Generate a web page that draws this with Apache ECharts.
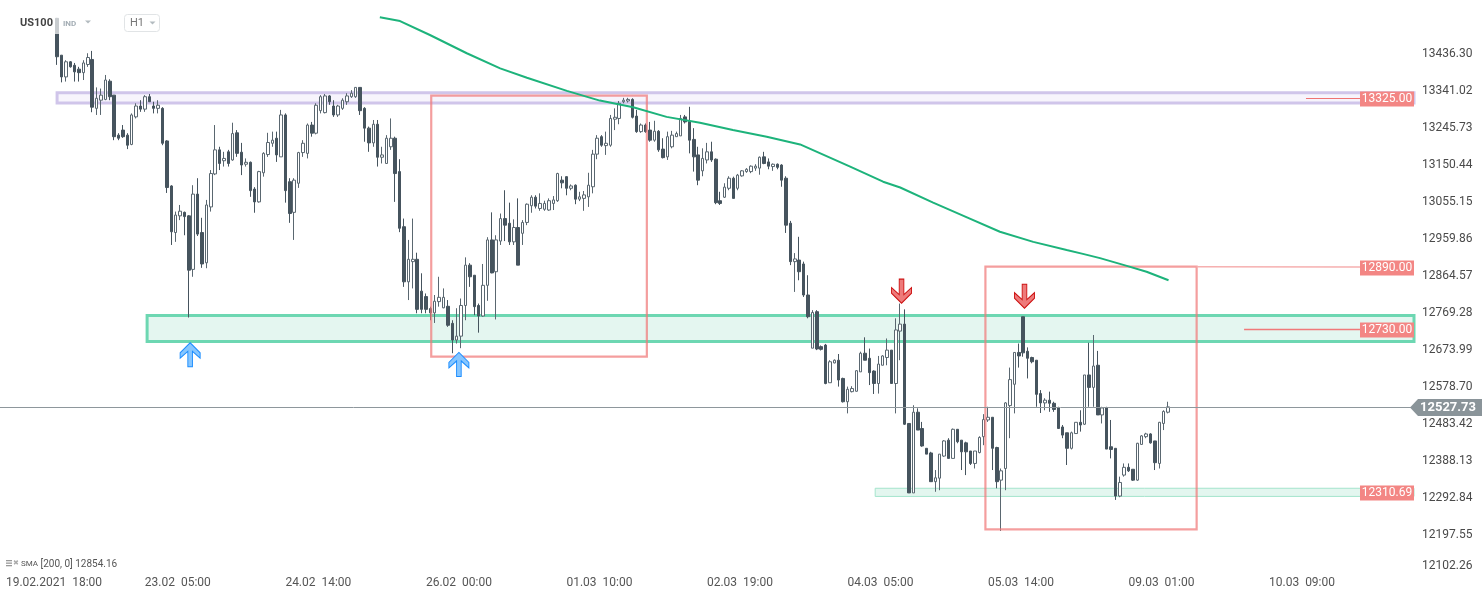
<!DOCTYPE html>
<html><head><meta charset="utf-8">
<script src="https://cdn.jsdelivr.net/npm/echarts@6/dist/echarts.min.js"></script>
<style>html,body{margin:0;padding:0;background:#fff}#c{width:1482px;height:598px}</style>
</head><body><div id="c"></div>
<script>
// ---------- DATA ----------
const startIndex = 12; // bar index of the first candle (hourly bars)
// [open, close, low, high]
const candles = [
[13529,13430,13409,13530],[13434,13378,13364,13434],[13378,13417,13366,13421],[13417,13404,13402,13419],
[13408,13391,13366,13414],[13398,13389,13366,13404],[13389,13414,13370,13421],[13410,13428,13404,13439],
[13423,13300,13287,13445],[13297,13323,13280,13351],[13318,13331,13280,13348],[13320,13370,13318,13383],
[13367,13327,13318,13372],[13331,13224,13215,13331],[13228,13220,13215,13233],[13241,13224,13221,13254],
[13228,13202,13192,13233],[13204,13280,13202,13284],[13275,13303,13271,13310],[13303,13295,13288,13318],
[13295,13327,13288,13331],[13327,13314,13314,13334],[13303,13297,13284,13314],[13297,13305,13284,13318],
[13297,13207,13202,13300],[13213,13093,13079,13215],[13097,12979,12945,13099],[12977,13022,12953,13031],
[13020,13032,13009,13048],[13029,13018,12970,13031],[13020,12880,12758,13022],[12882,13076,12863,13099],
[13076,12973,12968,13117],[12977,12896,12886,13015],[12899,13048,12885,13061],[13043,13129,13031,13138],
[13128,13190,13125,13254],[13190,13155,13138,13198],[13162,13168,13147,13185],[13185,13155,13147,13190],
[13164,13232,13162,13260],[13234,13181,13172,13241],[13184,13151,13125,13208],[13153,13158,13147,13168],
[13158,13085,13069,13160],[13089,13056,13028,13094],[13056,13134,13054,13136],[13131,13181,13121,13184],
[13178,13209,13172,13234],[13207,13215,13198,13237],[13220,13177,13159,13237],[13172,13280,13172,13293],
[13280,13085,13054,13284],[13108,13026,13002,13117],[13029,13112,12958,13117],[13104,13183,13092,13185],
[13183,13207,13172,13215],[13181,13254,13168,13258],[13254,13233,13224,13262],[13233,13305,13230,13310],
[13291,13327,13284,13331],[13286,13329,13284,13334],[13329,13314,13306,13331],[13303,13280,13275,13318],
[13280,13303,13275,13306],[13297,13318,13293,13323],[13314,13329,13306,13336],[13327,13336,13324,13344],
[13327,13351,13324,13351],[13351,13291,13280,13351],[13297,13246,13211,13300],[13246,13208,13185,13250],
[13208,13256,13198,13267],[13256,13171,13147,13267],[13171,13177,13155,13198],[13155,13220,13155,13228],
[13198,13220,13190,13271],[13220,13129,13056,13224],[13134,12988,12978,13166],[12992,12850,12837,13013],
[12850,12908,12803,12958],[12902,12908,12833,13013],[12908,12779,12769,12925],[12826,12779,12769,12872],
[12812,12779,12769,12820],[12781,12770,12751,12786],[12770,12800,12744,12816],[12799,12810,12786,12863],
[12783,12810,12782,12833],[12787,12738,12734,12803],[12743,12700,12666,12751],[12700,12710,12691,12782],
[12710,12789,12679,12807],[12789,12893,12751,12913],[12893,12863,12837,12898],[12867,12786,12764,12867],
[12789,12762,12719,12794],[12762,12841,12760,12896],[12841,12958,12801,12965],[12958,12873,12872,13029],
[12876,12958,12753,12970],[12955,13013,12945,13026],[13013,12996,12955,13086],[13001,12953,12945,13054],
[12953,12990,12945,13011],[12990,12893,12893,13065],[12975,13003,12945,13009],[13003,13050,12996,13052],
[13046,13068,13028,13073],[13068,13045,13039,13073],[13039,13052,13033,13078],[13037,13052,13033,13059],
[13035,13059,13033,13065],[13052,13061,13035,13071],[13059,13129,13056,13131],[13112,13105,13091,13122],
[13121,13091,13073,13122],[13091,13097,13086,13101],[13099,13063,13050,13101],[13063,13069,13058,13082],
[13065,13074,13033,13084],[13069,13099,13043,13131],[13095,13179,13078,13190],[13179,13220,13166,13228],
[13224,13202,13198,13228],[13201,13207,13177,13237],[13202,13271,13198,13280],[13269,13274,13241,13297],
[13271,13310,13256,13316],[13314,13318,13310,13324],[13316,13320,13312,13324],[13320,13274,13271,13323],
[13277,13237,13234,13293],[13237,13254,13234,13258],[13254,13237,13234,13258],[13241,13215,13211,13262],
[13215,13238,13211,13265],[13238,13190,13185,13241],[13192,13170,13168,13220],[13172,13224,13164,13237],
[13198,13228,13194,13239],[13224,13232,13224,13237],[13226,13271,13226,13280],[13275,13262,13258,13280],
[13263,13215,13181,13301],[13217,13172,13134,13246],[13177,13112,13099,13198],[13136,13168,13122,13194],
[13164,13185,13155,13208],[13185,13164,13159,13211],[13166,13054,13050,13168],[13059,13052,13048,13082],
[13068,13094,13066,13104],[13091,13117,13086,13122],[13117,13065,13065,13121],[13091,13125,13086,13128],
[13123,13136,13121,13138],[13134,13140,13131,13143],[13134,13148,13130,13150],[13143,13148,13136,13153],
[13143,13171,13126,13173],[13172,13155,13153,13185],[13159,13148,13140,13168],[13147,13153,13136,13155],
[13153,13145,13140,13155],[13151,13112,13095,13153],[13117,12996,12976,13122],[13001,12902,12893,13007],
[12902,12909,12824,12924],[12906,12876,12854,12966],[12896,12816,12811,12902],[12816,12760,12756,12867],
[12679,12771,12679,12777],[12773,12677,12674,12777],[12683,12676,12673,12686],[12687,12588,12586,12690],
[12590,12644,12590,12648],[12641,12648,12640,12650],[12648,12597,12580,12664],[12601,12541,12539,12603],
[12541,12573,12511,12580],[12567,12575,12565,12581],[12568,12621,12567,12622],[12618,12666,12618,12670],
[12666,12648,12648,12707],[12653,12616,12584,12678],[12620,12588,12561,12622],[12588,12638,12562,12659],
[12635,12659,12635,12661],[12655,12674,12635,12704],[12674,12588,12588,12674],[12588,12726,12511,12756],
[12723,12741,12648,12794],[12741,12483,12481,12779],[12485,12306,12306,12485],[12306,12514,12306,12532],
[12514,12468,12468,12524],[12472,12427,12425,12489],[12421,12406,12406,12421],[12409,12335,12335,12412],
[12335,12345,12309,12365],[12344,12406,12313,12406],[12401,12440,12399,12442],[12442,12395,12395,12447],
[12395,12470,12395,12472],[12470,12438,12434,12470],[12442,12412,12365,12442],[12435,12412,12352,12438],
[12414,12382,12378,12414],[12382,12414,12369,12414],[12410,12449,12408,12452],[12451,12495,12429,12509],
[12494,12501,12489,12528],[12501,12421,12365,12501],[12423,12335,12318,12425],[12339,12363,12208,12369],
[12369,12538,12313,12540],[12531,12598,12447,12629],[12586,12668,12511,12668],[12668,12659,12629,12691],
[12760,12667,12657,12760],[12671,12653,12601,12681],[12655,12644,12640,12657],[12648,12560,12528,12648],
[12562,12538,12512,12571],[12538,12545,12519,12550],[12545,12537,12515,12567],[12537,12521,12515,12541],
[12525,12472,12472,12528],[12476,12455,12447,12481],[12461,12421,12378,12461],[12421,12461,12418,12464],
[12459,12488,12459,12488],[12488,12481,12464,12519],[12483,12610,12481,12610],[12610,12578,12528,12693],
[12578,12633,12528,12713],[12635,12507,12507,12672],[12507,12525,12485,12528],[12525,12419,12419,12528],
[12425,12418,12395,12494],[12421,12298,12288,12421],[12298,12333,12295,12348],[12352,12372,12348,12382],
[12372,12363,12360,12382],[12367,12339,12337,12367],[12339,12434,12337,12435],[12431,12453,12431,12455],
[12451,12458,12447,12461],[12458,12435,12433,12460],[12440,12384,12365,12440],[12382,12488,12369,12489],
[12485,12516,12468,12519],[12514,12527.73,12511,12541]
];
const lastPrice = 12527.73;
// SMA(200) read points: [bar index, value]
const smaPoints = [[85.5,13532],[90.1,13522],[96.9,13486],[105.3,13439],[112.9,13400],[119.0,13376],
[128.1,13342],[135.6,13317],[143.2,13300],[150.8,13275],[158.4,13260],[165.9,13241],[173.6,13224],
[181.2,13204],[192.6,13147],[200.1,13108],[204.0,13093],[211.5,13054],[219.2,13016],[226.7,12979],
[234.3,12953],[241.9,12932],[245.6,12922],[249.5,12911],[255.6,12891],[260.1,12876],[265.1,12854.16]];
const yTicks = [12102.26,12197.55,12292.84,12388.13,12483.42,12578.70,12673.99,12769.28,12864.57,12959.86,13055.15,13150.44,13245.73,13341.02,13436.30];
const xLabelPos = [11.3,39.5,71.5,103.5,135.5,167.5,199.5,231.5,263.5,295.5];
const xLabelText = ['19.02.2021  18:00','23.02  05:00','24.02  14:00','26.02  00:00','01.03  10:00','02.03  19:00','04.03  05:00','05.03  14:00','09.03  01:00','10.03  09:00'];
const purpleZone = [12, 13311, 13337];     // [from bar, low, high]
const greenZone = [32.5, 12696, 12763];
const supportZone = [198.3, 12297, 12318];
const boxes = [[97.2, 146.3, 12657, 13330], [223.4, 271.5, 12212, 12889]]; // [x1, x2, low, high]
const upArrows = [[42.3, 12693], [103.5, 12668]];
const downArrows = [[204.3, 12795], [232.3, 12782]];
const levelTags = [13325.00, 12890.00, 12730.00, 12310.69];
const connectors = [[296.4, 308.7, 13323, 13323], [271.5, 308.7, 12889, 12888], [282.3, 308.7, 12728, 12728]];
const smaInfo = ['SMA', '[200, 0] 12854.16'];
const xMin = -1, xMax = 321, yMin = 12102.26, yMax = 13576.2;

// ---------- CHART ----------
const chart = echarts.init(document.getElementById('c'), null, {renderer: 'canvas'});
const FONT = 'Roboto, "Noto Sans", sans-serif';
const candleData = candles.map((c, k) => [startIndex + k, c[0], c[1], c[2], c[3]]);
const labelMap = {};
xLabelPos.forEach((p, i) => labelMap[p.toFixed(2)] = xLabelText[i]);

const upPath = 'path://M10,0 L20,10 L20,15.5 L12.3,8.5 L12.3,24 L7.7,24 L7.7,8.5 L0,15.5 L0,10 Z';
const downPath = 'path://M7.7,0 L12.3,0 L12.3,15.5 L20,8.5 L20,14 L10,24 L0,14 L0,8.5 L7.7,15.5 Z';
const connectorStyles = [
  {color: '#ef7474', width: 1.2},
  {color: '#f6b0b0', width: 1.5},
  {color: '#f07a7a', width: 1.4}
];

const option = {
  animation: false,
  backgroundColor: '#fff',
  grid: {left: 0, right: 68, top: 0, bottom: 26, containLabel: false},
  xAxis: {
    type: 'value', min: xMin, max: xMax,
    axisLine: {show: false}, axisTick: {show: false}, splitLine: {show: false},
    axisLabel: {
      customValues: xLabelPos, margin: 5, color: '#555', fontSize: 12, fontFamily: FONT,
      formatter: v => labelMap[Number(v).toFixed(2)] || ''
    }
  },
  yAxis: {
    type: 'value', position: 'right', min: yMin, max: yMax,
    axisLine: {show: false}, axisTick: {show: false}, splitLine: {show: false},
    axisLabel: {
      customValues: yTicks, margin: 8, color: '#4a4a4a', fontSize: 12, fontFamily: FONT,
      verticalAlignMinLabel: 'bottom',
      formatter: v => Number(v).toFixed(2)
    }
  },
  series: [
    {
      type: 'candlestick', name: 'US100', data: candleData,
      encode: {x: 0, y: [1, 2, 3, 4]},
      barWidth: 3, z: 3,
      itemStyle: {color: '#ffffff', color0: '#46545e', borderColor: '#5a6770', borderColor0: '#46545e', borderWidth: 1},
      markArea: {
        silent: true, z: 1,
        data: [
          [{xAxis: purpleZone[0], yAxis: purpleZone[2], itemStyle: {color: '#f7f4fc', borderColor: '#d0c5ea', borderWidth: 3}}, {yAxis: purpleZone[1]}],
          [{xAxis: greenZone[0], yAxis: greenZone[2], itemStyle: {color: '#e4f6f0', borderColor: '#6dd7b2', borderWidth: 3}}, {yAxis: greenZone[1]}],
          [{xAxis: supportZone[0], yAxis: supportZone[2], itemStyle: {color: '#e3f6ef', borderColor: '#a5e5cd', borderWidth: 1}}, {yAxis: supportZone[1]}]
        ]
      },
      markLine: {
        silent: true, symbol: ['none', 'none'], label: {show: false},
        data: [
          {yAxis: lastPrice, lineStyle: {color: '#8e979c', width: 1, type: 'solid'}}
        ]
      }
    },
    {
      type: 'candlestick', name: 'boxes', data: [], encode: {x: 0, y: [1, 2, 3, 4]}, z: 4,
      markArea: {
        silent: true, z: 4,
        data: boxes.map(b => [{xAxis: b[0], yAxis: b[3], itemStyle: {color: 'rgba(0,0,0,0)', borderColor: 'rgba(240,120,120,0.72)', borderWidth: 2.2}}, {xAxis: b[1], yAxis: b[2]}])
      }
    },
    {
      type: 'line', name: 'SMA', data: smaPoints, showSymbol: false, symbol: 'none', z: 5,
      lineStyle: {color: '#1db37b', width: 2}
    },
    {
      type: 'line', name: 'connectors', data: [], z: 7,
      markLine: {
        silent: true, symbol: ['none', 'none'], label: {show: false}, z: 7,
        data: connectors.map((c, i) => [
          {coord: [c[0], c[2]], lineStyle: {color: connectorStyles[i].color, width: connectorStyles[i].width, type: 'solid', opacity: 1}},
          {coord: [c[1], c[3]]}
        ])
      }
    },
    {
      type: 'scatter', name: 'up', data: upArrows, symbol: upPath, symbolSize: [20, 24], symbolOffset: [0, 12], z: 6,
      itemStyle: {color: '#86c6ff', borderColor: '#1a8cff', borderWidth: 1, opacity: 1}
    },
    {
      type: 'scatter', name: 'down', data: downArrows, symbol: downPath, symbolSize: [20, 24], symbolOffset: [0, -12], z: 6,
      itemStyle: {color: '#ee7a7a', borderColor: '#cc1010', borderWidth: 1, opacity: 1}
    }
  ]
};
chart.setOption(option);

// ---------- OVERLAY TEXT / TAGS ----------
const yPix = v => chart.convertToPixel({yAxisIndex: 0}, v);
const xPix = v => chart.convertToPixel({xAxisIndex: 0}, v);
const plotRight = xPix(xMax);
const g = [];
levelTags.forEach(v => {
  const y = Math.round(yPix(v)) + 2;
  g.push({type: 'rect', shape: {x: plotRight - 54, y: y - 7.5, width: 54, height: 15}, style: {fill: '#f38684'}, z: 50});
  g.push({type: 'text', x: plotRight - 27, y: y, style: {text: v.toFixed(2), fill: '#fff', font: '12px ' + FONT, align: 'center', verticalAlign: 'middle'}, z: 51});
});
const py = Math.round(yPix(lastPrice)) + 0.5;
g.push({type: 'polygon', shape: {points: [[plotRight - 4, py], [plotRight + 4, py - 8.5], [1482, py - 8.5], [1482, py + 8.5], [plotRight + 4, py + 8.5]]}, style: {fill: '#8a9499'}, z: 50});
g.push({type: 'text', x: plotRight + 34, y: py, style: {text: lastPrice.toFixed(2), fill: '#fff', font: 'bold 13px ' + FONT, align: 'center', verticalAlign: 'middle'}, z: 51});
// header
g.push({type: 'rect', shape: {x: 14, y: 17, width: 47, height: 17}, style: {fill: 'rgba(255,255,255,0.7)'}, z: 60});
g.push({type: 'text', x: 20, y: 23, style: {text: 'US100', fill: '#444', font: 'bold 11px ' + FONT, verticalAlign: 'middle'}, z: 61});
g.push({type: 'text', x: 63, y: 24, style: {text: 'IND', fill: '#a3adb4', font: 'bold 8px ' + FONT, verticalAlign: 'middle'}, z: 61});
g.push({type: 'polygon', shape: {points: [[85, 20.5], [91, 20.5], [88, 23.5]]}, style: {fill: '#b3bbc0'}, z: 61});
g.push({type: 'rect', shape: {x: 124.5, y: 14.5, width: 35, height: 17, r: 3}, style: {fill: '#fff', stroke: '#e1e4e6', lineWidth: 1}, z: 60});
g.push({type: 'text', x: 130, y: 23.5, style: {text: 'H1', fill: '#777', font: '11px ' + FONT, verticalAlign: 'middle'}, z: 61});
g.push({type: 'polygon', shape: {points: [[149.5, 21.5], [155.5, 21.5], [152.5, 24.5]]}, style: {fill: '#b3bbc0'}, z: 61});
// SMA legend bottom-left
g.push({type: 'rect', shape: {x: 6, y: 560, width: 6, height: 1.3}, style: {fill: '#999'}, z: 61});
g.push({type: 'rect', shape: {x: 6, y: 562.5, width: 6, height: 1.3}, style: {fill: '#999'}, z: 61});
g.push({type: 'rect', shape: {x: 6, y: 565, width: 6, height: 1.3}, style: {fill: '#999'}, z: 61});
g.push({type: 'text', x: 13, y: 563, style: {text: '✖', fill: '#aaa', font: '7px ' + FONT, verticalAlign: 'middle'}, z: 61});
g.push({type: 'text', x: 21, y: 564, style: {text: '{a|' + smaInfo[0] + '} ' + smaInfo[1], fill: '#555', font: '10px ' + FONT, verticalAlign: 'middle', rich: {a: {fontSize: 8, fill: '#555', fontFamily: FONT}}}, z: 61});
chart.setOption({graphic: g});
</script>
</body></html>
